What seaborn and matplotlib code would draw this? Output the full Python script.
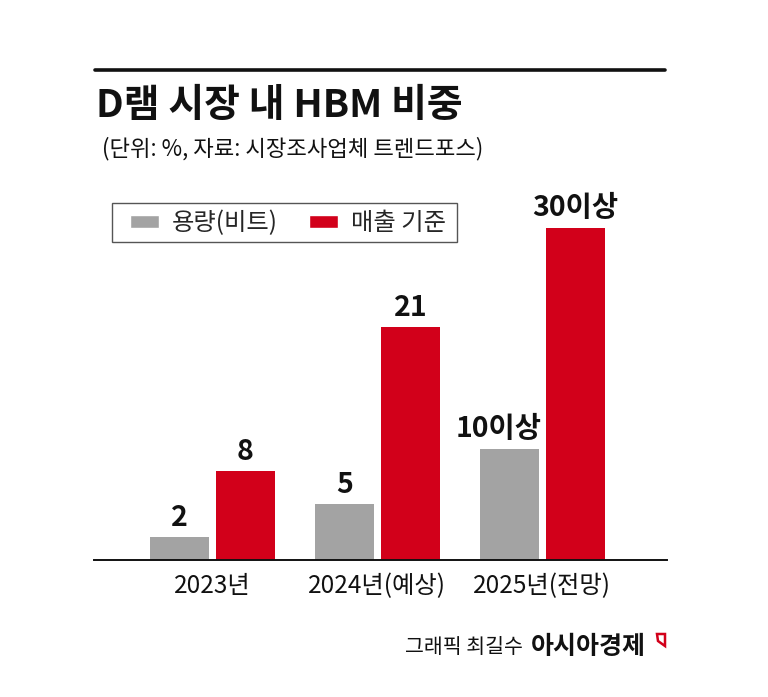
import matplotlib
matplotlib.use('Agg')
import matplotlib.pyplot as plt
import seaborn as sns
import pandas as pd
from matplotlib.lines import Line2D
from matplotlib.patches import Patch, Polygon, Rectangle

# ---- data ----
years = ['2023년', '2024년(예상)', '2025년(전망)']
series = ['용량(비트)', '매출 기준']
capacity = [2, 5, 10]
revenue = [8, 21, 30]
capacity_labels = ['2', '5', '10이상']
revenue_labels = ['8', '21', '30이상']
colors = ['#a3a3a3', '#d2001a']

title = 'D램 시장 내 HBM 비중'
subtitle = '(단위: %, 자료: 시장조사업체 트렌드포스)'
credit_left = '그래픽 최길수'
credit_right = '아시아경제'

sns.set_theme(style='white')
plt.rcParams['font.family'] = ['Noto Sans CJK KR', 'DejaVu Sans']

df = pd.DataFrame({
    '연도': years * 2,
    '구분': [series[0]] * len(years) + [series[1]] * len(years),
    '값': capacity + revenue,
})

W, H = 768, 697
fig = plt.figure(figsize=(W / 100, H / 100), dpi=100)
fig.patch.set_facecolor('white')

base_y = 559.5
ppu = 11.05
ymax = 32
ax = fig.add_axes([94 / W, (H - base_y) / H, (667 - 94) / W, ymax * ppu / H])
sns.barplot(data=df, x='연도', y='값', hue='구분', hue_order=series,
            palette=colors, width=0.8, gap=0.106, saturation=1,
            linewidth=0, ax=ax, legend=False)
ax.set_xlim(-0.718, 2.755)
ax.set_ylim(0, ymax)
ax.set_facecolor('none')
for s in ['top', 'right', 'left']:
    ax.spines[s].set_visible(False)
ax.spines['bottom'].set_color('#111111')
ax.spines['bottom'].set_linewidth(1.4)
ax.set_yticks([])
ax.set_xlabel('')
ax.set_ylabel('')
ax.tick_params(axis='x', length=0, pad=10, labelsize=17.5, colors='#111111')

cap_texts = ax.bar_label(ax.containers[0], labels=capacity_labels, padding=4,
                         fontsize=20.5, fontweight='bold', color='#111111')
ax.bar_label(ax.containers[1], labels=revenue_labels, padding=4,
             fontsize=20.5, fontweight='bold', color='#111111')
# the long "10이상" label sits slightly left of its bar, as in the original
cap_texts[2].xyann = (-8, 4)

# legend (frame drawn separately to match the wide side padding)
handles = [Patch(facecolor=colors[0], label=series[0]),
           Patch(facecolor=colors[1], label=series[1])]
leg = fig.legend(handles=handles, loc='center left',
                 bbox_to_anchor=(130 / W, 1 - 223 / H), ncol=2,
                 frameon=False, fontsize=17.5,
                 handlelength=1.19, handleheight=0.49,
                 handletextpad=0.53, columnspacing=1.28, borderpad=0,
                 borderaxespad=0)
fig.add_artist(Rectangle((112 / W, 1 - 242 / H), (457 - 112) / W, 39 / H,
                         fill=False, edgecolor='#555555', lw=1.0,
                         transform=fig.transFigure))

# top rule
fig.add_artist(Line2D([95 / W, 665 / W], [1 - 70 / H] * 2,
                      color='#111111', lw=2.6))

# titles
fig.text(96 / W, 1 - 106 / H, title, fontsize=28, fontweight='black',
         va='center', ha='left', color='#111111')
fig.text(102 / W, 1 - 149 / H, subtitle, fontsize=16,
         va='center', ha='left', color='#111111')

# credits
fig.text(405 / W, 1 - 647 / H, credit_left, fontsize=14.8,
         va='center', ha='left', color='#111111')
fig.text(531 / W, 1 - 647 / H, credit_right, fontsize=18, fontweight='black',
         va='center', ha='left', color='#111111')
mark = [(657, 634), (665, 634), (665, 646), (658, 641)]
fig.add_artist(Polygon([(x / W, 1 - y / H) for x, y in mark], closed=True,
                       fill=False, edgecolor=colors[1], lw=1.8,
                       transform=fig.transFigure))

fig.savefig('out.png', dpi=100)
